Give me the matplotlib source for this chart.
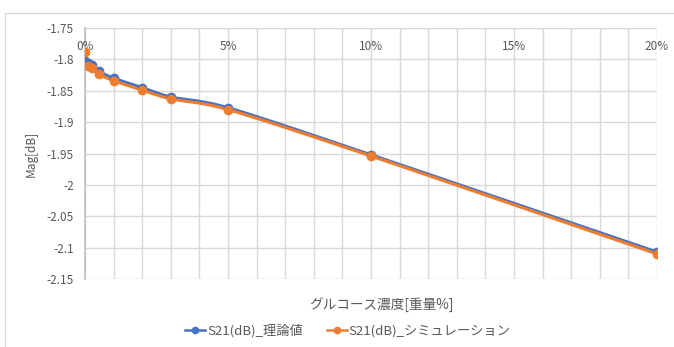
import numpy as np
import matplotlib.pyplot as plt
from matplotlib.patches import Rectangle
from matplotlib.transforms import blended_transform_factory

plt.rcParams['font.family'] = ['Noto Sans CJK JP', 'DejaVu Sans']

# グルコース濃度[重量%] と S21 の値
conc = [0, 0.1, 0.25, 0.5, 1, 2, 3, 5, 10, 20]
s21_theory = [-1.802, -1.806, -1.809, -1.819, -1.830, -1.845, -1.860, -1.877, -1.952, -2.107]
s21_sim = [-1.788, -1.811, -1.814, -1.824, -1.834, -1.849, -1.863, -1.880, -1.954, -2.110]
xticks = [0, 5, 10, 15, 20]
xticklabels = ['0%', '5%', '10%', '15%', '20%']
yticks = np.arange(-2.15, -1.74, 0.05)
ylim = (-2.15, -1.75)
xlim = (0, 20)

GRAY = '#595959'
GRID = '#d9d9d9'


def smooth(x, y, n=30, k=7.0):
    # Bezier smoothing done in axis-fraction space
    x = np.asarray(x, float)
    y = np.asarray(y, float)
    u = (x - xlim[0]) / (xlim[1] - xlim[0])
    v = (y - ylim[0]) / (ylim[1] - ylim[0]) * 0.44
    p = np.column_stack([u, v])
    p = np.vstack([p[0], p, p[-1]])
    out = []
    t = np.linspace(0, 1, n)[:, None]
    for i in range(1, len(p) - 2):
        p0, p1, p2, p3 = p[i - 1], p[i], p[i + 1], p[i + 2]
        c1 = p1 + (p2 - p0) / k
        c2 = p2 - (p3 - p1) / k
        seg = ((1 - t) ** 3) * p1 + 3 * ((1 - t) ** 2) * t * c1 + 3 * (1 - t) * t ** 2 * c2 + t ** 3 * p2
        out.append(seg)
    out = np.vstack(out)
    xs = out[:, 0] * (xlim[1] - xlim[0]) + xlim[0]
    ys = out[:, 1] / 0.44 * (ylim[1] - ylim[0]) + ylim[0]
    return xs, ys


fig = plt.figure(figsize=(6.74, 3.47), dpi=100)
ax = fig.add_axes([85 / 674, 1 - 279 / 347, (657 - 85) / 674, (279 - 28) / 347])

# chart border
fig.patches.append(Rectangle((5 / 674, -0.05), 1.0, 1 - 13 / 347 + 0.05, transform=fig.transFigure,
                             fill=False, edgecolor='#d9d9d9', linewidth=1.0))

for xv, yv, c, lab in [(conc, s21_theory, '#4472C4', 'S21(dB)_理論値'),
                       (conc, s21_sim, '#ED7D31', 'S21(dB)_シミュレーション')]:
    xs, ys = smooth(xv, yv)
    ax.plot(xs, ys, color=c, lw=2.2, solid_capstyle='round', zorder=3)
    ax.plot(xv, yv, 'o', color=c, ms=6, zorder=4)
    ax.plot([], [], '-o', color=c, lw=1.8, ms=4.5, label=lab)

ax.set_xlim(*xlim)
ax.set_ylim(*ylim)
ax.set_xticks(np.arange(0, 21, 1))
ax.set_yticks(yticks)
ax.set_yticklabels([f'{v:g}' for v in np.round(yticks, 2)], color=GRAY, fontsize=8.5)
ax.tick_params(axis='both', length=0)
ax.tick_params(axis='y', pad=8)
ax.set_xticklabels([])
ax.grid(True, color=GRID, lw=1.0, zorder=0)
for s in ['right', 'bottom', 'top']:
    ax.spines[s].set_visible(False)
ax.spines['left'].set_color('#bfbfbf')
ax.spines['left'].set_linewidth(1.2)
ax.axhline(ylim[1], color='#d9d9d9', lw=1.2, zorder=1)

# x ticks sit under the top axis line
tr = blended_transform_factory(ax.transData, ax.transAxes)
for xv, lab in zip(xticks, xticklabels):
    ax.text(xv, 1 - 19 / 251, lab, transform=tr, ha='center', va='center', color=GRAY, fontsize=8.5)

ax.set_ylabel('Mag[dB]', color=GRAY, fontsize=8.5, labelpad=4)
ax.yaxis.set_label_coords(-0.083, 0.5)
fig.text(381 / 674, 1 - 305 / 347, 'グルコース濃度[重量%]', ha='center', va='center', color=GRAY, fontsize=9.8)

leg = fig.legend(loc='center', bbox_to_anchor=(348 / 674, 1 - 331 / 347), ncol=2, frameon=False,
                 fontsize=9.5, handlelength=1.5, handletextpad=0.15, columnspacing=1.8)
for t in leg.get_texts():
    t.set_color(GRAY)

fig.savefig('out.png', dpi=100)
